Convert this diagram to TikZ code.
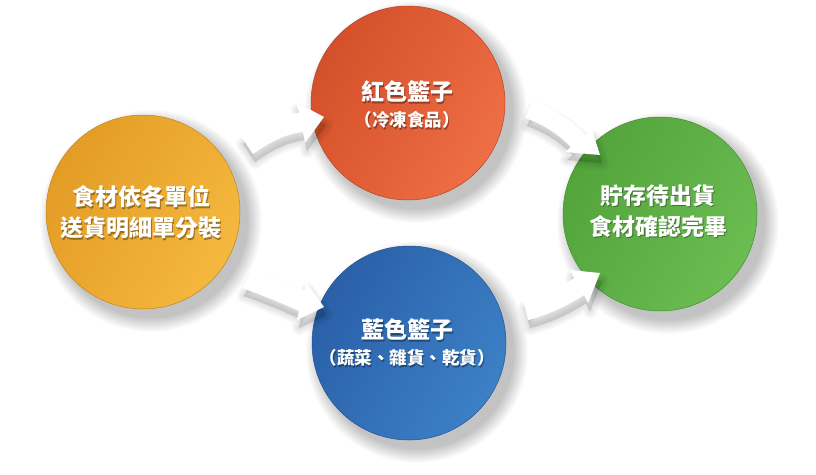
\documentclass[tikz,border=0pt]{standalone}
\usepackage{fontspec}
\newfontfamily\cjk{Noto Sans CJK TC}
\usetikzlibrary{calc}
\definecolor{yelA}{HTML}{E39C25}
\definecolor{yelB}{HTML}{F5B83E}
\definecolor{redA}{HTML}{D4502A}
\definecolor{redB}{HTML}{EE6E45}
\definecolor{bluA}{HTML}{2A60A8}
\definecolor{bluB}{HTML}{3C80C6}
\definecolor{grnA}{HTML}{52A43B}
\definecolor{grnB}{HTML}{6BBD52}
\tikzset{
  ball/.style 2 args={circle, minimum size=194pt, inner sep=0pt,
    left color=#1, right color=#2, shading angle=60,
    draw=#1!85!black, line width=0.5pt},
  bigtxt/.style={font=\cjk\bfseries\fontsize{23}{31}\selectfont, align=center, inner sep=0pt},
  smalltxt/.style={font=\cjk\bfseries\fontsize{17.5}{20}\selectfont, align=center, inner sep=0pt},
  wtxt/.style={text=white},
  stxt/.style={text=black, text opacity=0.35},
  arrowfill/.style={fill=white},
}
\newcommand\ringshadow[1]{%
  \foreach \k in {0,...,14}{\fill[black,opacity=0.017] ($(#1)+(8pt,-9pt)$) circle[radius={(97+\k)*1pt}];}}
\newcommand\arrowshadow[1]{%
  \foreach \w in {14,10,6,2}{\draw[black,opacity=0.03,line width=\w pt,line join=round,fill=black,fill opacity=0.03] [shift={(2,8)}] #1;}}
\newcommand\shadowtext[4]{%
  \node[#2,stxt] at ($(#1)+(1.2pt,-1.6pt)$) {#4};
  \node[#2,wtxt] (#3) at (#1) {#4};}
\begin{document}
\begin{tikzpicture}[x=1pt,y=-1pt]
\useasboundingbox (0,0) rectangle (816,474);
\fill[white] (0,0) rectangle (816,474);
\coordinate (cy) at (143,212);
\coordinate (cr) at (408,103);
\coordinate (cb) at (409,343);
\coordinate (cg) at (660,214);
% circle shadows
\ringshadow{cy}
\ringshadow{cr}
\ringshadow{cb}
\ringshadow{cg}
% circles
\node[ball={yelA}{yelB}] (yellow) at (cy) {};
\node[ball={redA}{redB}] (red) at (cr) {};
\node[ball={bluA}{bluB}] (blue) at (cb) {};
\node[ball={grnA}{grnB}] (green) at (cg) {};
% arrows
\def\arrA{(241,136) .. controls (262,124) and (282,115) .. (299,113) -- (296,102) -- (324,117) -- (305,143) -- (303,132) .. controls (284,134) and (267,144) .. (253,154) -- cycle}
\def\arrB{(253,270) .. controls (272,275) and (290,283) .. (304,291) -- (306,282) -- (324,307) -- (297,320) -- (299,311) .. controls (281,303) and (262,295) .. (242,288) -- cycle}
\def\arrC{(533,100) .. controls (553,108) and (571,120) .. (586,135) -- (592,130) -- (600,155) -- (565,152) -- (571,147) .. controls (558,134) and (543,124) .. (525,118) -- cycle}
\def\arrD{(523,300) .. controls (541,296) and (559,289) .. (574,278) -- (570,270) -- (600,273) -- (588,303) -- (584,295) .. controls (567,306) and (548,315) .. (528,320) -- cycle}
\arrowshadow{\arrA}
\arrowshadow{\arrB}
\arrowshadow{\arrC}
\arrowshadow{\arrD}
\fill[arrowfill] \arrA;
\fill[arrowfill] \arrB;
\fill[arrowfill] \arrC;
\fill[arrowfill] \arrD;
% texts
\shadowtext{141,212.5}{bigtxt}{ty}{食材依各單位\\送貨明細單分裝}
\shadowtext{407,92}{bigtxt}{tr}{紅色籃子}
\shadowtext{407,120}{smalltxt}{tr2}{（冷凍食品）}
\shadowtext{407,330}{bigtxt}{tb}{藍色籃子}
\shadowtext{407,358}{smalltxt}{tb2}{（蔬菜、雜貨、乾貨）}
\shadowtext{658,211}{bigtxt}{tg}{貯存待出貨\\食材確認完畢}
\end{tikzpicture}
\end{document}
